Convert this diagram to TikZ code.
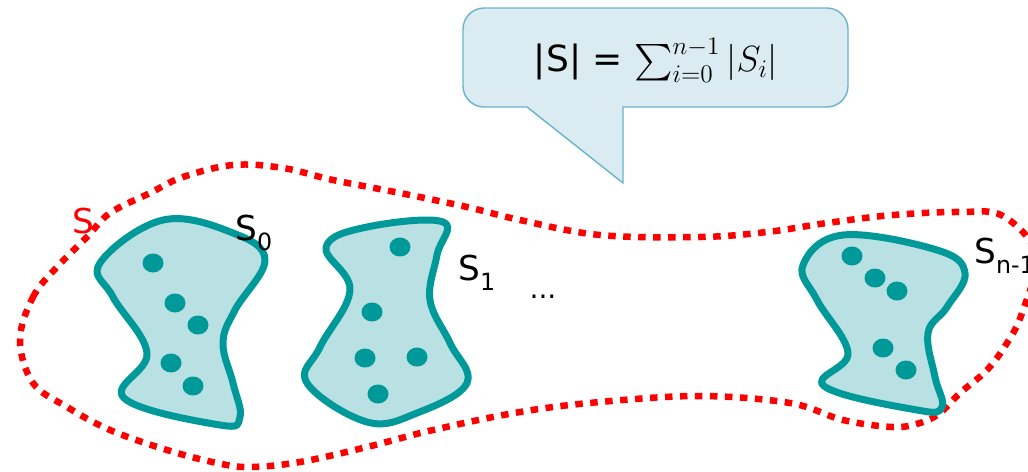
\documentclass[tikz,border=0pt]{standalone}
\usepackage{exscale}
\usepackage{fontspec}
\setmainfont{DejaVu Sans}
\usepackage{tikz}
\usetikzlibrary{positioning}
\usepackage{xcolor}
\definecolor{teal}   {HTML}{009999}
\definecolor{pond}   {HTML}{B9E0E3}
\definecolor{bubble} {HTML}{DAEBF1}
\definecolor{rim}    {HTML}{6BB3CB}
\definecolor{setred} {HTML}{FF0000}
\newcommand\lowidx[1]{\raisebox{-0.3em}{\fontsize{13.5}{14}\selectfont #1}}
\tikzset{
  blob/.style={draw=teal, fill=pond, line width=1.4mm, line join=round},
  member/.style={fill=teal},
  outline/.style={draw=setred, line width=1.3mm, dash pattern=on 1.5mm off 1.5mm},
  setlabel/.style={anchor=base west, inner sep=0pt, font=\fontsize{19.5}{20}\selectfont}
}

\begin{document}
\begin{tikzpicture}[x=0.2mm, y=-0.2mm]
  \useasboundingbox (0,0) rectangle (1028,471);
  % the whole set S
  \draw[outline] plot[smooth cycle, tension=0.6] coordinates {
    (20,340) (33,297) (57,267) (87,237) (110,213) (150,193) (183,177)
    (233,165) (283,168) (333,180) (400,193) (467,207) (520,220) (600,235)
    (700,237) (767,232) (827,223) (893,215) (960,212) (1003,216) (1036,255)
    (1022,313) (1007,343) (987,370) (960,393) (940,413) (920,423) (893,427)
    (843,420) (790,403) (700,396) (600,402) (520,412) (433,430) (367,447)
    (300,462) (250,467) (217,463) (167,450) (110,430) (67,407) (33,383)};

  % the parts S_0, S_1, S_{n-1}
  \draw[blob] plot[smooth cycle, tension=0.65] coordinates {
    (100,263) (163,220) (233,233) (265,260) (235,310) (223,343) (233,383)
    (240,417) (220,425) (124,398) (147,353) (113,297)};
  \draw[blob] plot[smooth cycle, tension=0.65] coordinates {
    (326,247) (367,227) (443,222) (437,255) (430,300) (450,343) (467,383)
    (417,413) (367,422) (307,383) (320,347) (350,290)};
  \draw[blob] plot[smooth cycle, tension=0.65] coordinates {
    (803,265) (843,235) (937,250) (965,273) (947,307) (928,333) (935,377)
    (942,407) (917,410) (824,386) (848,353) (817,300)};
  \foreach \p in {(153,263),(175,303),(198,325),(171,363),(193,386),
                  (400,247),(372,312),(365,358),(417,357),(378,394),
                  (852,256),(875,278),(897,291),(883,348),(906,370)}
    \fill[member] \p ellipse (10.5 and 9.5);

  \node[setlabel, text=setred] (lblS) at (72,233) {S};
  \node[setlabel] (lblA) at (235,240) {S\lowidx{0}};
  \node[setlabel] (lblB) at (458,280) {S\lowidx{1}};
  \node[setlabel] (lblZ) at (974,263) {S\lowidx{n-1}};
  \node[font=\fontsize{16}{16}\selectfont, inner sep=0pt] (gap) at (543,297) {...};

  % speech bubble with the count
  \draw[draw=rim, fill=bubble, line width=0.8pt]
    (623,107) [rounded corners=12] -- (848,107) -- (848,8) -- (463,8)
    -- (463,107) [sharp corners] -- (527,107) -- (623,183) -- cycle;
  \node[font=\fontsize{20.5}{22}\selectfont] (sum) at (656,60)
    {|S| = $\sum_{i=0}^{n-1}|S_i|$};
\end{tikzpicture}
\end{document}
